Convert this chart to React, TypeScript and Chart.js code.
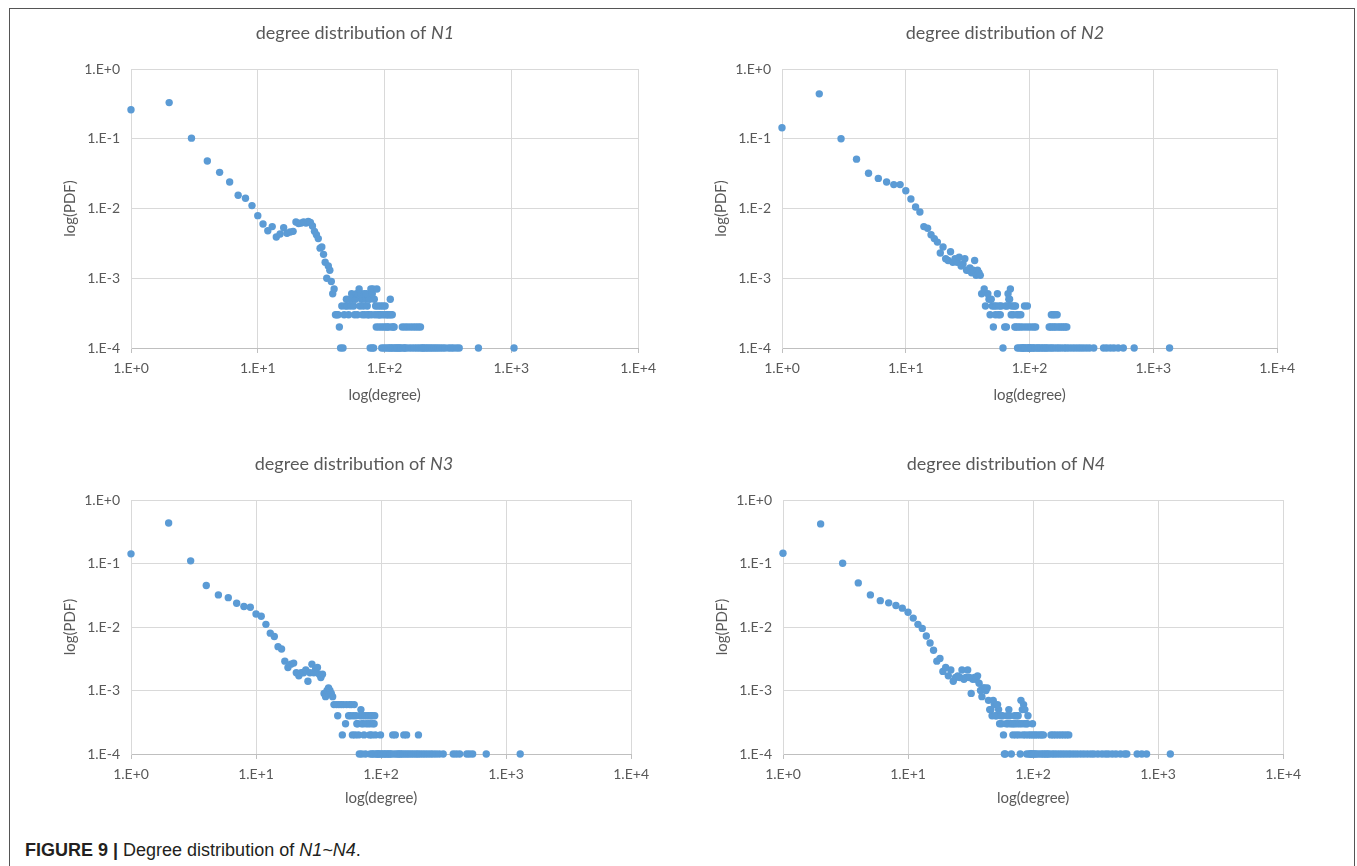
import React, { useEffect, useRef } from "react";
import { Chart, registerables } from "chart.js";

Chart.register(...registerables);

// ---------- axis ticks ----------
const xTickValues = [1, 10, 100, 1000, 10000];
const yTickValues = [0.0001, 0.001, 0.01, 0.1, 1];
const pdfUnit = 0.0001; // one node out of ~10000

// ---------- N1 ----------
// PDF for degree 1, 2, 3, ...
const n1HeadPdf = [0.26, 0.33, 0.102, 0.048, 0.033, 0.024, 0.0155, 0.014, 0.011, 0.0079,
  0.006, 0.0048, 0.0055, 0.0039, 0.0043, 0.0053, 0.0044, 0.0046, 0.0047, 0.0064,
  0.0061, 0.0062, 0.0064, 0.0062, 0.0065, 0.0063, 0.0056, 0.0047, 0.0042, 0.0037,
  0.0027, 0.0028, 0.0022, 0.0017, 0.001, 0.0015, 0.0013, 0.0009];
// degrees whose PDF is k x 1e-4 (k = 1..7)
const n1L1 = [45, 47, 77, 80, 82, 95, 99, 103, 107, 110, 113, 116, 120, 123, 126, 129, 132, 135, 141, 144,
  148, 156, 164, 172, 180, 188, 196, 200, 206, 213, 220, 228, 236, 245, 254, 264, 275, 287, 300, 320,
  335, 350, 370, 388, 550, 1050];
const n1L2 = [44, 86, 90, 94, 98, 102, 105, 108, 114, 117, 119, 138, 145, 152, 160, 168, 176, 184, 192];
const n1L3 = [41, 42, 43, 48, 52, 58, 61, 67, 70, 74, 75, 79, 84, 88, 91, 92, 96, 100, 104, 106, 109, 112, 115];
const n1L4 = [46, 49, 51, 54, 57, 64, 68, 73, 85, 89, 93, 97, 101];
const n1L5 = [50, 53, 56, 59, 66, 71, 76, 83, 111];
const n1L6 = [39, 55, 60, 62, 65, 69, 72, 80];
const n1L7 = [40, 63, 78, 81, 87];

// ---------- N2 ----------
const n2HeadPdf = [0.144, 0.44, 0.1, 0.051, 0.032, 0.027, 0.024, 0.022, 0.022, 0.018,
  0.0137, 0.0105, 0.0089, 0.0055, 0.0052, 0.0042, 0.0037, 0.0033, 0.0023, 0.0028,
  0.0019, 0.0018, 0.0024, 0.0017, 0.0019, 0.0017, 0.002, 0.0015, 0.0016, 0.0019,
  0.0013, 0.0013, 0.0014, 0.0012, 0.0013, 0.0018, 0.0011, 0.0013, 0.0012, 0.0011];
const n2L1 = [61, 80, 83, 86, 87, 89, 90, 92, 95, 97, 99, 100, 102, 105, 107, 110, 114, 117, 120, 124,
  128, 132, 136, 140, 146, 151, 157, 165, 172, 180, 190, 198, 208, 220, 232, 245, 258, 272, 288, 305,
  330, 396, 420, 450, 480, 520, 572, 700, 1352];
const n2L2 = [51, 63, 65, 76, 78, 81, 84, 88, 93, 98, 103, 108, 112, 144, 148, 153, 158, 163, 170, 176, 182, 188, 194, 200];
const n2L3 = [48, 53, 56, 58, 71, 74, 79, 82, 85, 150, 155, 160, 167];
const n2L4 = [44, 50, 52, 54, 57, 59, 64, 66, 72, 75, 77, 91, 96];
const n2L5 = [47, 49, 68, 69];
const n2L6 = [41, 46, 55, 67];
const n2L7 = [43, 70];

// ---------- N3 ----------
const n3HeadPdf = [0.142, 0.435, 0.11, 0.045, 0.032, 0.029, 0.0237, 0.021, 0.0205, 0.016,
  0.0148, 0.011, 0.008, 0.0071, 0.0049, 0.0045, 0.0029, 0.0023, 0.0026, 0.0027,
  0.0019, 0.0017, 0.0019, 0.0019, 0.0021, 0.0014, 0.0019, 0.0026, 0.0019, 0.0022,
  0.0023, 0.0018, 0.0016, 0.0018, 0.0009, 0.0008, 0.001, 0.0011, 0.001, 0.0009, 0.0008];
const n3L1 = [67, 70, 75, 82, 85, 87, 91, 93, 95, 97, 100, 103, 106, 109, 112, 115, 118, 121, 127, 133,
  137, 141, 145, 150, 156, 162, 168, 175, 182, 190, 197, 205, 215, 225, 236, 248, 260, 275, 292, 314,
  378, 400, 425, 485, 510, 540, 694, 1297];
const n3L2 = [49, 59, 62, 66, 73, 81, 84, 90, 99, 124, 130, 152, 160, 199];
const n3L3 = [52, 64, 65, 70, 72, 76, 79, 82, 86, 88];
const n3L4 = [45, 55, 57, 60, 63, 68, 71, 74, 77, 80, 83, 85, 89];
const n3L5 = [69];
const n3L6 = [42, 44, 46, 48, 50, 53, 56, 58, 61];
const n3L7: number[] = [];

// ---------- N4 ----------
const n4HeadPdf = [0.145, 0.42, 0.101, 0.0495, 0.032, 0.026, 0.024, 0.0218, 0.0198, 0.0171,
  0.0138, 0.011, 0.0095, 0.0072, 0.0056, 0.0043, 0.0029, 0.0032, 0.002, 0.0023,
  0.0017, 0.0021, 0.0014, 0.0016, 0.0017, 0.0016, 0.0021, 0.0015, 0.0016, 0.0021,
  0.0016, 0.0009, 0.0015, 0.0016, 0.0015, 0.0017, 0.0013, 0.001, 0.0008, 0.0011,
  0.0011, 0.001, 0.0011, 0.0007];
const n4L1 = [59, 60, 67, 79, 89, 93, 95, 97, 98, 101, 103, 106, 110, 115, 119, 123, 127, 131, 135, 142,
  148, 155, 163, 171, 180, 190, 200, 212, 225, 240, 255, 272, 290, 306, 330, 356, 380, 400, 430, 460,
  500, 540, 562, 680, 740, 809, 1253];
const n4L2 = [58, 69, 73, 77, 83, 87, 92, 96, 100, 104, 108, 113, 117, 121, 139, 145, 152, 160, 168, 176, 185, 193];
const n4L3 = [54, 56, 61, 63, 66, 68, 70, 72, 75, 78, 81, 85, 88, 90, 99];
const n4L4 = [47, 50, 51, 55, 57, 62, 65, 71, 74, 76, 91];
const n4L5 = [45, 46, 53, 64, 82, 86];
const n4L6 = [49, 52, 84];
const n4L7 = [48, 80];

// ---------- styling ----------
const GRID = "#d9d9d9";
const AXIS = "#bfbfbf";
const TEXT = "#595959";
const POINT = "#5b9bd5";
const FONT = "Lato, 'Open Sans', sans-serif";

const panels = [
  { name: "N1", head: n1HeadPdf, levels: [n1L1, n1L2, n1L3, n1L4, n1L5, n1L6, n1L7],
    left: 57, top: 9, width: 606, height: 399, yAxisW: 74, xAxisH: 60, titleX: 298, titleY: 30 },
  { name: "N2", head: n2HeadPdf, levels: [n2L1, n2L2, n2L3, n2L4, n2L5, n2L6, n2L7],
    left: 708, top: 9, width: 594, height: 399, yAxisW: 74, xAxisH: 60, titleX: 297, titleY: 30 },
  { name: "N3", head: n3HeadPdf, levels: [n3L1, n3L2, n3L3, n3L4, n3L5, n3L6, n3L7],
    left: 57, top: 440, width: 599, height: 371, yAxisW: 74, xAxisH: 57, titleX: 297, titleY: 30 },
  { name: "N4", head: n4HeadPdf, levels: [n4L1, n4L2, n4L3, n4L4, n4L5, n4L6, n4L7],
    left: 709, top: 440, width: 599, height: 371, yAxisW: 74, xAxisH: 57, titleX: 297, titleY: 30 },
];

function fmtPow(v: number) {
  const e = Math.round(Math.log10(v));
  return `1.E${e >= 0 ? "+" : ""}${e}`;
}

function buildPoints(head: number[], levels: number[][]) {
  const pts: { x: number; y: number }[] = head.map((p, i) => ({ x: i + 1, y: p }));
  levels.forEach((degs, k) => degs.forEach((d) => pts.push({ x: d, y: (k + 1) * pdfUnit })));
  return pts;
}

function makeConfig(p: any): any {
  const titlePlugin = {
    id: "panelTitle",
    afterDraw(chart: any) {
      const ctx = chart.ctx;
      const a = "degree distribution of ";
      const b = p.name;
      ctx.save();
      ctx.fillStyle = TEXT;
      ctx.textBaseline = "alphabetic";
      ctx.textAlign = "left";
      ctx.font = `18px ${FONT}`;
      const w1 = ctx.measureText(a).width;
      ctx.font = `italic 18px ${FONT}`;
      const w2 = ctx.measureText(b).width;
      const x0 = p.titleX - (w1 + w2) / 2;
      ctx.font = `18px ${FONT}`;
      ctx.fillText(a, x0, p.titleY);
      ctx.font = `italic 18px ${FONT}`;
      ctx.fillText(b, x0 + w1, p.titleY);
      ctx.restore();
    },
  };
  return {
    type: "scatter",
    data: {
      datasets: [
        {
          data: buildPoints(p.head, p.levels),
          backgroundColor: POINT,
          borderColor: POINT,
          pointRadius: 3.7,
          pointHoverRadius: 3.7,
          pointBorderWidth: 0,
          clip: false,
        },
      ],
    },
    options: {
      animation: false,
      responsive: false,
      maintainAspectRatio: false,
      events: [],
      layout: { padding: { top: 60, right: 20, left: 0, bottom: 0 } },
      plugins: { legend: { display: false }, tooltip: { enabled: false }, title: { display: false } },
      scales: {
        x: {
          type: "logarithmic",
          min: 1,
          max: 10000,
          afterBuildTicks: (s: any) => { s.ticks = xTickValues.map((v) => ({ value: v })); },
          afterFit: (s: any) => { s.height = p.xAxisH; },
          ticks: { callback: (v: number) => fmtPow(v), color: TEXT, font: { family: FONT, size: 14 }, padding: 7, maxRotation: 0, autoSkip: false },
          grid: { color: GRID, lineWidth: 1, drawTicks: true, tickLength: 5, tickColor: AXIS },
          border: { color: AXIS, width: 1 },
          title: { display: true, text: "log(degree)", color: TEXT, font: { family: FONT, size: 15 } },
        },
        y: {
          type: "logarithmic",
          min: 0.0001,
          max: 1,
          afterBuildTicks: (s: any) => { s.ticks = yTickValues.map((v) => ({ value: v })); },
          afterFit: (s: any) => { s.width = p.yAxisW; },
          ticks: { callback: (v: number) => fmtPow(v), color: TEXT, font: { family: FONT, size: 14 }, padding: 11, autoSkip: false },
          grid: { color: GRID, lineWidth: 1, drawTicks: false },
          border: { color: GRID, width: 1 },
          title: { display: true, text: "log(PDF)", color: TEXT, font: { family: FONT, size: 15 } },
        },
      },
    },
    plugins: [titlePlugin],
  };
}

function Panel({ p }: { p: any }) {
  const ref = useRef<HTMLCanvasElement>(null);
  useEffect(() => {
    const chart = new Chart(ref.current as HTMLCanvasElement, makeConfig(p));
    return () => chart.destroy();
  }, [p]);
  return (
    <canvas
      ref={ref}
      width={p.width}
      height={p.height}
      style={{ position: "absolute", left: p.left, top: p.top, width: p.width, height: p.height }}
    />
  );
}

export default function App() {
  return (
    <div style={{ position: "absolute", left: 0, top: 0, width: 1357, height: 866, overflow: "hidden", background: "#fff" }}>
      <div
        style={{
          position: "absolute", left: 9, top: 8, width: 1346, height: 900, boxSizing: "border-box",
          borderTop: "1px solid #555", borderLeft: "1px solid #555", borderRight: "1px solid #555",
        }}
      />
      {panels.map((p) => (
        <Panel key={p.name} p={p} />
      ))}
      <div
        style={{
          position: "absolute", left: 25, top: 840, fontFamily: "'Liberation Sans', Arial, sans-serif",
          fontSize: 18, lineHeight: "20px", color: "#231f20", whiteSpace: "nowrap",
        }}
      >
        <b>FIGURE 9 |</b> Degree distribution of <i>N1~N4</i>.
      </div>
    </div>
  );
}
